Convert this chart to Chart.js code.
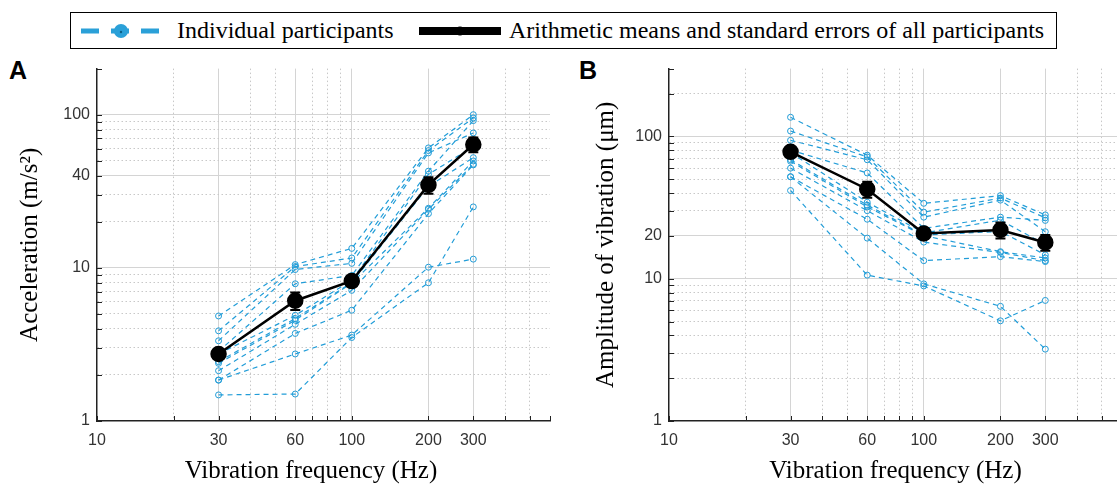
<!DOCTYPE html>
<html>
<head>
<meta charset="utf-8">
<script src="https://cdn.jsdelivr.net/npm/chart.js@4.4.1/dist/chart.umd.min.js"></script>
<style>
  html, body { margin: 0; padding: 0; background: #fff; }
  body { position: relative; width: 1117px; height: 486px; overflow: hidden; font-family: "Liberation Serif", "Times New Roman", serif; }
  #legend { position: absolute; left: 70px; top: 12px; width: 985px; height: 35px; border: 1.5px solid #000; }
  #legend svg { position: absolute; left: 0; top: 0; }
  #legend span { position: absolute; top: 4px; font-size: 24px; line-height: 26px; white-space: nowrap; }
  .panel-label { position: absolute; top: 56px; font-family: "Liberation Sans", Arial, sans-serif; font-weight: bold; font-size: 25px; }
  canvas { position: absolute; top: 52px; }
  #chartA { left: 0; }
  #chartB { left: 570px; }
</style>
</head>
<body>
<div id="legend">
  <svg width="985" height="35">
    <line x1="10" y1="18" x2="90" y2="18" stroke="#2aa0d8" stroke-width="5" stroke-dasharray="18,12"/>
    <circle cx="50" cy="18" r="7" fill="#2aa0d8"/>
    <circle cx="50" cy="19" r="1.2" fill="#0b5f86"/>
    <line x1="348" y1="18" x2="430" y2="18" stroke="#000" stroke-width="8"/>
    <circle cx="389" cy="18" r="4.5" fill="#000"/>
  </svg>
  <span style="left:106px">Individual participants</span>
  <span style="left:438px">Arithmetic means and standard errors of all participants</span>
</div>
<div class="panel-label" style="left:9px">A</div>
<div class="panel-label" style="left:579px">B</div>
<canvas id="chartA" width="560" height="434"></canvas>
<canvas id="chartB" width="562" height="434"></canvas>

<script>
// vibration frequencies (Hz)
const frequencies = [30, 60, 100, 200, 300];

// x axis grid / labels
const xGridValues = [10, 20, 30, 40, 50, 60, 70, 80, 90, 100, 200, 300, 400, 500, 600];
const xLabelValues = [10, 30, 60, 100, 200, 300];
const xMajorValues = [30, 60, 100, 200, 300];

// panel A: acceleration (m/s^2)
const accelGridValues = [1, 2, 3, 4, 5, 6, 7, 8, 9, 10, 20, 30, 40, 50, 60, 70, 80, 90, 100, 200];
const accelLabelValues = [1, 10, 40, 100];
const accelParticipants = [
    [4.85, 10.5, 13.4, 60.7, 100],
    [3.88, 10.2, 11.6, 58.3, 95.2],
    [3.34, 9.75, 10.7, 56.3, 76.0],
    [2.85, 7.87, 8.92, 42.8, 91.5],
    [2.74, 4.90, 8.3, 40.8, 62.0],
    [2.44, 4.67, 8.0, 34.0, 52.4],
    [2.38, 4.55, 7.95, 24.5, 49.9],
    [2.13, 4.28, 7.13, 24.1, 47.5],
    [1.85, 3.73, 5.29, 22.6, 47.0],
    [1.48, 1.50, 3.51, 7.99, 25.0],
    [1.85, 2.74, 3.64, 10.1, 11.4]
];
const accelMean = [2.74, 6.1, 8.2, 34.8, 63.9];
const accelSE = [0.15, 0.8, 0.6, 4.3, 7.0];

// panel B: amplitude of vibration (um)
const ampGridValues = [1, 2, 3, 4, 5, 6, 7, 8, 9, 10, 20, 30, 40, 50, 60, 70, 80, 90, 100, 200, 300];
const ampLabelValues = [1, 10, 20, 100];
const ampParticipants = [
    [136.5, 73.9, 33.9, 38.4, 28.1],
    [109.2, 71.8, 29.4, 36.9, 26.8],
    [94.0, 68.6, 27.1, 35.7, 21.4],
    [80.2, 55.4, 22.6, 27.1, 25.7],
    [77.1, 34.5, 21.0, 25.8, 17.4],
    [68.7, 32.9, 20.3, 21.5, 14.7],
    [67.0, 32.0, 20.1, 15.5, 14.0],
    [59.9, 30.1, 18.1, 15.3, 13.4],
    [52.1, 26.2, 13.4, 14.3, 13.2],
    [41.7, 10.6, 8.9, 5.06, 7.04],
    [52.1, 19.3, 9.2, 6.4, 3.2]
];
const ampMean = [78, 42.6, 20.8, 22.0, 18.0];
const ampSE = [4, 5.5, 1.7, 2.8, 2.3];

const BLUE = '#229dd8';
const tickFont = { family: '"Liberation Sans", Arial, sans-serif', size: 16 };
const titleFont = { family: '"Liberation Serif", "Times New Roman", serif', size: 25 };

// inward tick marks on left and bottom axes
const innerTicks = {
    id: 'innerTicks',
    afterDraw(chart) {
        const ctx = chart.ctx;
        const x = chart.scales.x, y = chart.scales.y;
        const area = chart.chartArea;
        ctx.save();
        ctx.strokeStyle = '#222';
        ctx.lineWidth = 1;
        ctx.beginPath();
        x.ticks.forEach(t => {
            const px = Math.round(x.getPixelForValue(t.value)) + 0.5;
            ctx.moveTo(px, area.bottom);
            ctx.lineTo(px, area.bottom - 5);
        });
        y.ticks.forEach(t => {
            const py = Math.round(y.getPixelForValue(t.value)) + 0.5;
            ctx.moveTo(area.left, py);
            ctx.lineTo(area.left + 5, py);
        });
        ctx.stroke();
        ctx.restore();
    }
};

// standard error bars for the mean series
const errorBars = {
    id: 'errorBars',
    afterDatasetsDraw(chart, args, opts) {
        if (!opts.se) return;
        const ctx = chart.ctx;
        const y = chart.scales.y;
        const idx = chart.data.datasets.length - 1;
        const meta = chart.getDatasetMeta(idx);
        const data = chart.data.datasets[idx].data;
        ctx.save();
        ctx.strokeStyle = '#000';
        ctx.lineWidth = 2;
        meta.data.forEach((pt, i) => {
            const v = data[i].y, e = opts.se[i];
            const top = y.getPixelForValue(v + e);
            const bot = y.getPixelForValue(v - e);
            ctx.beginPath();
            ctx.moveTo(pt.x, top); ctx.lineTo(pt.x, bot);
            ctx.moveTo(pt.x - 5, top); ctx.lineTo(pt.x + 5, top);
            ctx.moveTo(pt.x - 5, bot); ctx.lineTo(pt.x + 5, bot);
            ctx.stroke();
        });
        ctx.restore();
    }
};

function gridColor(majors, min, max) {
    return ctx => {
        const v = ctx.tick ? ctx.tick.value : null;
        if (v === min || v === max) return 'rgba(0,0,0,0)';
        return majors.includes(v) ? '#d4d4d4' : '#c8c8c8';
    };
}
function gridDash(majors) {
    return ctx => (ctx.tick && !majors.includes(ctx.tick.value)) ? [1.5, 2.5] : [];
}

function makePanel(id, participants, mean, se, yMax, yGrid, yLabels, yTitle, yWidth, yTitlePad, xTitle) {
    const datasets = participants.map(p => ({
        data: frequencies.map((f, i) => ({ x: f, y: p[i] })),
        borderColor: BLUE,
        borderWidth: 1.2,
        borderDash: [5, 4],
        pointRadius: 3,
        pointBorderWidth: 1,
        pointBorderColor: BLUE,
        pointBackgroundColor: 'rgba(255,255,255,0)',
        order: 1
    }));
    datasets.push({
        data: frequencies.map((f, i) => ({ x: f, y: mean[i] })),
        borderColor: '#000',
        borderWidth: 2.5,
        pointRadius: 7,
        pointBackgroundColor: '#000',
        pointBorderColor: '#000',
        order: 0
    });

    const yMajors = yLabels.slice(1);
    return new Chart(document.getElementById(id), {
        type: 'line',
        data: { datasets },
        plugins: [innerTicks, errorBars],
        options: {
            responsive: false,
            animation: false,
            devicePixelRatio: 1,
            layout: { padding: { top: 9, right: 8, left: 0, bottom: 0 } },
            plugins: {
                legend: { display: false },
                tooltip: { enabled: false },
                errorBars: { se }
            },
            scales: {
                x: {
                    type: 'logarithmic',
                    min: 10, max: 600,
                    afterBuildTicks: s => { s.ticks = xGridValues.map(v => ({ value: v })); },
                    afterFit: s => { s.height = 65; },
                    ticks: {
                        autoSkip: false, maxRotation: 0, padding: 10,
                        color: '#333', font: tickFont,
                        callback: v => xLabelValues.includes(v) ? String(v) : ''
                    },
                    grid: { color: gridColor(xMajorValues, 10, 600), drawTicks: false, lineWidth: 1 },
                    border: { color: '#222', width: 1.5, dash: gridDash(xMajorValues) },
                    title: { display: true, text: xTitle, color: '#000', font: titleFont, padding: { top: 0, bottom: 0 } }
                },
                y: {
                    type: 'logarithmic',
                    min: 1, max: yMax,
                    afterBuildTicks: s => { s.ticks = yGrid.map(v => ({ value: v })); },
                    afterFit: s => { s.width = yWidth; },
                    ticks: {
                        autoSkip: false, padding: 7,
                        color: '#333', font: tickFont,
                        callback: v => yLabels.includes(v) ? String(v) : ''
                    },
                    grid: { color: gridColor(yMajors, 1, yMax), drawTicks: false, lineWidth: 1 },
                    border: { color: '#222', width: 1.5, dash: gridDash(yMajors) },
                    title: { display: true, text: yTitle, color: '#000', font: titleFont, padding: { top: yTitlePad, bottom: 0 } }
                }
            }
        }
    });
}

makePanel('chartA', accelParticipants, accelMean, accelSE, 200,
    accelGridValues, accelLabelValues, 'Acceleration (m/s²)', 97, 15,
    'Vibration frequency (Hz)\u00a0\u00a0\u00a0\u00a0');
makePanel('chartB', ampParticipants, ampMean, ampSE, 300,
    ampGridValues, ampLabelValues, 'Amplitude of vibration (μm)', 99, 21,
    'Vibration frequency (Hz)');
</script>
</body>
</html>
